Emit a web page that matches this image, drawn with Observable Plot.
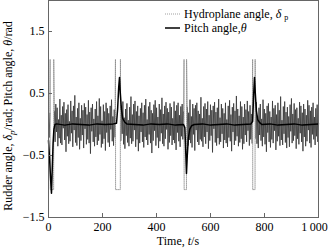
<!DOCTYPE html>
<html><head><meta charset="utf-8">
<script src="https://cdn.jsdelivr.net/npm/d3@7"></script>
<script src="https://cdn.jsdelivr.net/npm/@observablehq/plot@0.6"></script>
<style>
html,body{margin:0;padding:0;background:#fff;}
#chart{position:relative;width:329px;height:250px;}
svg{font-family:"Liberation Serif","Times New Roman",serif;}
</style></head>
<body><div id="chart"></div>
<script>
// ---- data ----
const xTicks = [0, 200, 400, 600, 800, 1000];
const xTickLabels = ["0", "200", "400", "600", "800", "1\u2009000"];
const yTicks = [-1.5, -0.5, 0.5, 1.5];
const yTickLabels = ["\u22121.5", "\u22120.5", "0.5", "1.5"];

// hydroplane noise segments: [start time, end time], values read as estimates
const segA = [0, 5];
const noiseA = [0.12, -0.21, 0.18];
const segB = [22, 246];
const noiseB = [0.21,-0.28,0.33,-0.12,0.27,-0.35,0.08,-0.22,0.41,-0.30,
0.15,-0.33,0.29,-0.06,0.36,-0.25,0.18,-0.44,0.24,-0.19,
0.32,-0.31,0.05,-0.27,0.38,-0.14,0.22,-0.36,0.30,-0.09,
0.47,-0.29,0.12,-0.34,0.26,-0.21,0.35,-0.40,0.10,-0.26,
0.31,-0.17,0.23,-0.38,0.34,-0.07,0.28,-0.32,0.16,-0.24,
0.39,-0.30,0.20,-0.47,0.27,-0.11,0.33,-0.28,0.09,-0.35,
0.25,-0.20,0.37,-0.33,0.14,-0.26,0.42,-0.16,0.29,-0.37,
0.06,-0.31,0.32,-0.23,0.21,-0.42,0.35,-0.13,0.26,-0.29,
0.18,-0.36,0.30,-0.08,0.40,-0.27,0.13,-0.34,0.24,-0.20];
const segC = [268, 500];
const noiseC = [-0.26,0.30,-0.15,0.37,-0.32,0.11,-0.39,0.25,-0.18,0.34,
-0.29,0.07,-0.35,0.28,-0.22,0.45,-0.31,0.16,-0.27,0.33,
-0.09,0.38,-0.36,0.21,-0.24,0.30,-0.43,0.14,-0.30,0.26,
-0.12,0.35,-0.28,0.19,-0.37,0.31,-0.20,0.41,-0.25,0.08,
-0.33,0.29,-0.16,0.36,-0.30,0.23,-0.46,0.18,-0.26,0.32,
-0.10,0.39,-0.34,0.27,-0.21,0.12,-0.38,0.33,-0.27,0.24,
-0.14,0.43,-0.31,0.17,-0.35,0.30,-0.23,0.36,-0.08,0.26,
-0.40,0.20,-0.29,0.34,-0.18,0.28,-0.33,0.10,-0.25,0.37,
-0.30,0.22,-0.41,0.31,-0.13,0.35,-0.27,0.15,-0.36,0.29,
-0.19,0.33,-0.24,0.21];
const segD = [514, 754];
const noiseD = [0.28,-0.34,0.19,-0.25,0.40,-0.30,0.13,-0.37,0.33,-0.16,
0.26,-0.42,0.31,-0.09,0.35,-0.28,0.22,-0.33,0.17,-0.24,
0.44,-0.27,0.10,-0.36,0.29,-0.20,0.34,-0.31,0.25,-0.12,
0.37,-0.39,0.15,-0.26,0.32,-0.18,0.23,-0.45,0.30,-0.07,
0.36,-0.29,0.20,-0.34,0.27,-0.22,0.41,-0.32,0.11,-0.28,
0.33,-0.15,0.26,-0.38,0.18,-0.25,0.35,-0.30,0.08,-0.36,
0.30,-0.21,0.39,-0.27,0.16,-0.43,0.28,-0.12,0.34,-0.33,
0.22,-0.26,0.46,-0.19,0.25,-0.35,0.14,-0.29,0.37,-0.23,
0.29,-0.40,0.12,-0.31,0.33,-0.17,0.24,-0.28,0.38,-0.10,
0.21,-0.34,0.31,-0.24,0.17,-0.30];
const segE = [767, 1000];
const noiseE = [-0.22,0.36,-0.31,0.14,-0.38,0.27,-0.17,0.33,-0.26,0.09,
-0.35,0.40,-0.20,0.25,-0.32,0.18,-0.44,0.30,-0.13,0.34,
-0.28,0.21,-0.37,0.12,-0.24,0.38,-0.30,0.26,-0.10,0.31,
-0.41,0.16,-0.27,0.35,-0.19,0.23,-0.34,0.45,-0.25,0.07,
-0.33,0.29,-0.15,0.37,-0.29,0.20,-0.38,0.28,-0.21,0.13,
-0.36,0.32,-0.11,0.42,-0.30,0.17,-0.26,0.34,-0.18,0.24,
-0.39,0.27,-0.23,0.10,-0.32,0.36,-0.14,0.30,-0.28,0.19,
-0.43,0.33,-0.20,0.25,-0.35,0.15,-0.27,0.39,-0.09,0.31,
-0.30,0.22,-0.37,0.28,-0.16,0.35,-0.24,0.12,-0.33,0.26,
-0.19,0.32,-0.28,0.21];

// hydroplane saturation pulses (time, angle)
const pulse1T = [5, 6, 6.4, 19, 19.4, 22];
const pulse1V = [0.18, 1.05, -1.05, -1.05, 1.05, 0.21];
const pulse2T = [246, 248, 248.4, 266, 266.4, 268];
const pulse2V = [-0.20, 1.05, -1.05, -1.05, 1.05, -0.26];
const pulse3T = [500, 502, 502.4, 511, 511.4, 514];
const pulse3V = [0.21, 1.05, -1.05, -1.05, 1.05, 0.28];
const pulse4T = [754, 756, 756.4, 765, 765.4, 767];
const pulse4V = [-0.30, 1.05, -1.05, -1.05, 1.05, -0.22];

// pitch angle (time, angle)
const pitchT = [0,4,8,11,14,17,20,24,30,60,90,120,150,180,210,240,252,256,260,263,266,270,275,282,290,320,350,380,410,440,470,500,505,508,511,514,518,523,530,540,570,600,630,660,690,720,750,756,760,763,766,770,775,782,790,820,850,880,910,940,970,1000];
const pitchV = [-0.26,-0.55,-0.9,-1.11,-0.7,-0.3,-0.08,0.0,0.01,-0.01,0.01,0.0,-0.01,0.01,0.0,0.01,0.02,0.25,0.6,0.76,0.5,0.25,0.1,0.04,0.01,0.0,-0.01,0.01,0.0,0.01,-0.01,0.0,-0.05,-0.4,-0.79,-0.5,-0.22,-0.08,-0.02,0.0,0.01,-0.01,0.0,0.01,-0.01,0.0,0.01,0.05,0.5,0.76,0.5,0.22,0.08,0.03,0.0,0.01,-0.01,0.0,0.01,-0.01,0.0,0.01];

// ---- build tables ----
function seg(range, vals, id) {
  const n = vals.length;
  return vals.map((v, i) => ({t: range[0] + (range[1] - range[0]) * i / (n - 1), v, id}));
}
function pts(T, V, id) { return T.map((t, i) => ({t, v: V[i], id})); }
const noise = [
  ...seg(segA, noiseA, "a"), ...seg(segB, noiseB, "b"), ...seg(segC, noiseC, "c"),
  ...seg(segD, noiseD, "d"), ...seg(segE, noiseE, "e")
];
const pulses = [
  ...pts(pulse1T, pulse1V, 1), ...pts(pulse2T, pulse2V, 2),
  ...pts(pulse3T, pulse3V, 3), ...pts(pulse4T, pulse4V, 4)
];
const pitch = pts(pitchT, pitchV, 0);

const fmtX = d => xTickLabels[xTicks.indexOf(d)];
const fmtY = d => yTickLabels[yTicks.indexOf(d)];

const svg = Plot.plot({
  width: 329, height: 250,
  marginLeft: 48, marginRight: 11, marginTop: 0, marginBottom: 33,
  style: {fontFamily: '"Liberation Serif", serif', fontSize: "12px", color: "#000", background: "#fff"},
  x: {domain: [0, 1000]},
  y: {domain: [-1.5, 2]},
  marks: [
    Plot.line(noise, {x: "t", y: "v", z: "id", stroke: "#3a3a3a", strokeWidth: 1, strokeOpacity: 0.85}),
    Plot.line(pulses, {x: "t", y: "v", z: "id", stroke: "#8a8a8a", strokeWidth: 0.8, strokeDasharray: "1,1"}),
    Plot.line(pitch, {x: "t", y: "v", stroke: "#000", strokeWidth: 1.5}),
    Plot.axisX({ticks: xTicks, tickSize: -4, tickFormat: () => "", stroke: "#666", label: null}),
    Plot.axisX({ticks: xTicks.slice(0, 5), tickSize: 0, tickPadding: 5, tickFormat: fmtX, fill: "#000", fontSize: 12, label: null}),
    Plot.axisX({ticks: xTicks.slice(5), tickSize: 0, tickPadding: 5, dx: -4, tickFormat: fmtX, fill: "#000", fontSize: 12, label: null}),
    Plot.axisY({ticks: yTicks, tickSize: -4, tickFormat: () => "", stroke: "#666", label: null}),
    Plot.axisY({ticks: yTicks, tickSize: 0, tickPadding: 4, tickFormat: fmtY, fill: "#000", fontSize: 12, label: null}),
    Plot.frame({stroke: "#666", strokeWidth: 1})
  ]
});
document.getElementById("chart").appendChild(svg);

const s = d3.select(svg);
const ff = '"Liberation Serif", serif';
// x title
const xt = s.append("text").attr("x", 178).attr("y", 245).attr("text-anchor", "middle")
  .attr("font-family", ff).attr("font-size", 12).attr("fill", "#000");
xt.append("tspan").text("Time, ");
xt.append("tspan").attr("font-style", "italic").text("t");
xt.append("tspan").text("/s");
// y title
const yt = s.append("text").attr("transform", "translate(12,116) rotate(-90)").attr("text-anchor", "middle")
  .attr("font-family", ff).attr("font-size", 12).attr("fill", "#000");
yt.append("tspan").text("Rudder angle, ");
yt.append("tspan").attr("font-style", "italic").text("\u03b4");
yt.append("tspan").attr("font-size", 9).attr("font-style", "italic").attr("dy", 3).text("p");
yt.append("tspan").attr("dy", -3).text("/rad; Pitch angle, ");
yt.append("tspan").attr("font-style", "italic").text("\u03b8");
yt.append("tspan").text("/rad");
// legend
s.append("line").attr("x1", 165).attr("x2", 180).attr("y1", 14).attr("y2", 14)
  .attr("stroke", "#888").attr("stroke-width", 0.8).attr("stroke-dasharray", "1,1");
s.append("line").attr("x1", 165).attr("x2", 180).attr("y1", 28).attr("y2", 28)
  .attr("stroke", "#000").attr("stroke-width", 1.5);
const l1 = s.append("text").attr("x", 184).attr("y", 18).attr("text-anchor", "start")
  .attr("font-family", ff).attr("font-size", 12).attr("fill", "#000");
l1.append("tspan").text("Hydroplane angle, ");
l1.append("tspan").attr("font-style", "italic").text("\u03b4");
l1.append("tspan").attr("font-size", 8).attr("dx", 3).attr("dy", 2).text("p");
const l2 = s.append("text").attr("x", 184).attr("y", 32).attr("text-anchor", "start")
  .attr("font-family", ff).attr("font-size", 12).attr("fill", "#000");
l2.append("tspan").text("Pitch angle,");
l2.append("tspan").attr("font-style", "italic").text("\u03b8");
</script></body></html>
